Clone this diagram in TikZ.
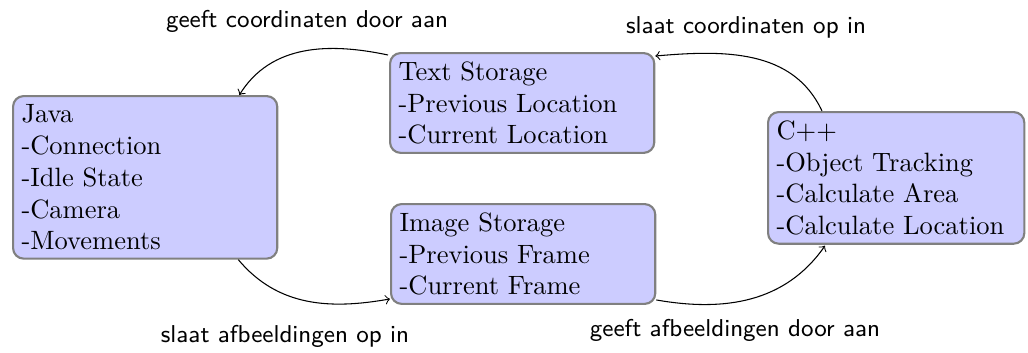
\documentclass[tikz,border=0pt]{standalone}
\usetikzlibrary{calc}
\begin{document}
\begin{tikzpicture}[x=0.37736pt,y=0.37736pt,
  box/.style={draw=black!50, thick, fill=blue!20, rounded corners=4pt,
    anchor=north west, align=left, inner sep=3.2pt, font=\normalsize},
  lbl/.style={font=\sffamily\fontsize{9.2}{11}\selectfont, inner sep=0pt},
  conn/.style={->, black}]
\useasboundingbox (0,0) rectangle (1028,352);
\node[box, text width=93.3pt] (java) at (12,257) {Java\\-Connection\\-Idle State\\-Camera\\-Movements};
\node[box, text width=93.3pt] (ts) at (389,300) {Text Storage\\-Previous Location\\-Current Location};
\node[box, text width=93.3pt] (is) at (390,149) {Image Storage\\-Previous Frame\\-Current Frame};
\node[box, text width=90.3pt] (cpp) at (767,241) {C++\\-Object Tracking\\-Calculate Area\\-Calculate Location};
\node[lbl] (l1) at (307,331) {geeft coordinaten door aan};
\node[lbl] (l2) at (746,325) {slaat coordinaten op in};
\node[lbl] (l3) at (285,16) {slaat afbeeldingen op in};
\node[lbl] (l4) at (735,22) {geeft afbeeldingen door aan};
\draw[conn] ($(ts.north west)+(-1,-3)$) to[out=168,in=58] ($(java.north east)+(-39,0)$);
\draw[conn] ($(cpp.north west)+(55,0)$) to[out=115,in=5] ($(ts.north east)+(0,-4)$);
\draw[conn] ($(java.south east)+(-40,0)$) to[out=-50,in=190] ($(is.south west)+(0,6)$);
\draw[conn] ($(is.south east)+(0,5)$) to[out=-10,in=-125] ($(cpp.south west)+(58,-1)$);
\end{tikzpicture}
\end{document}
